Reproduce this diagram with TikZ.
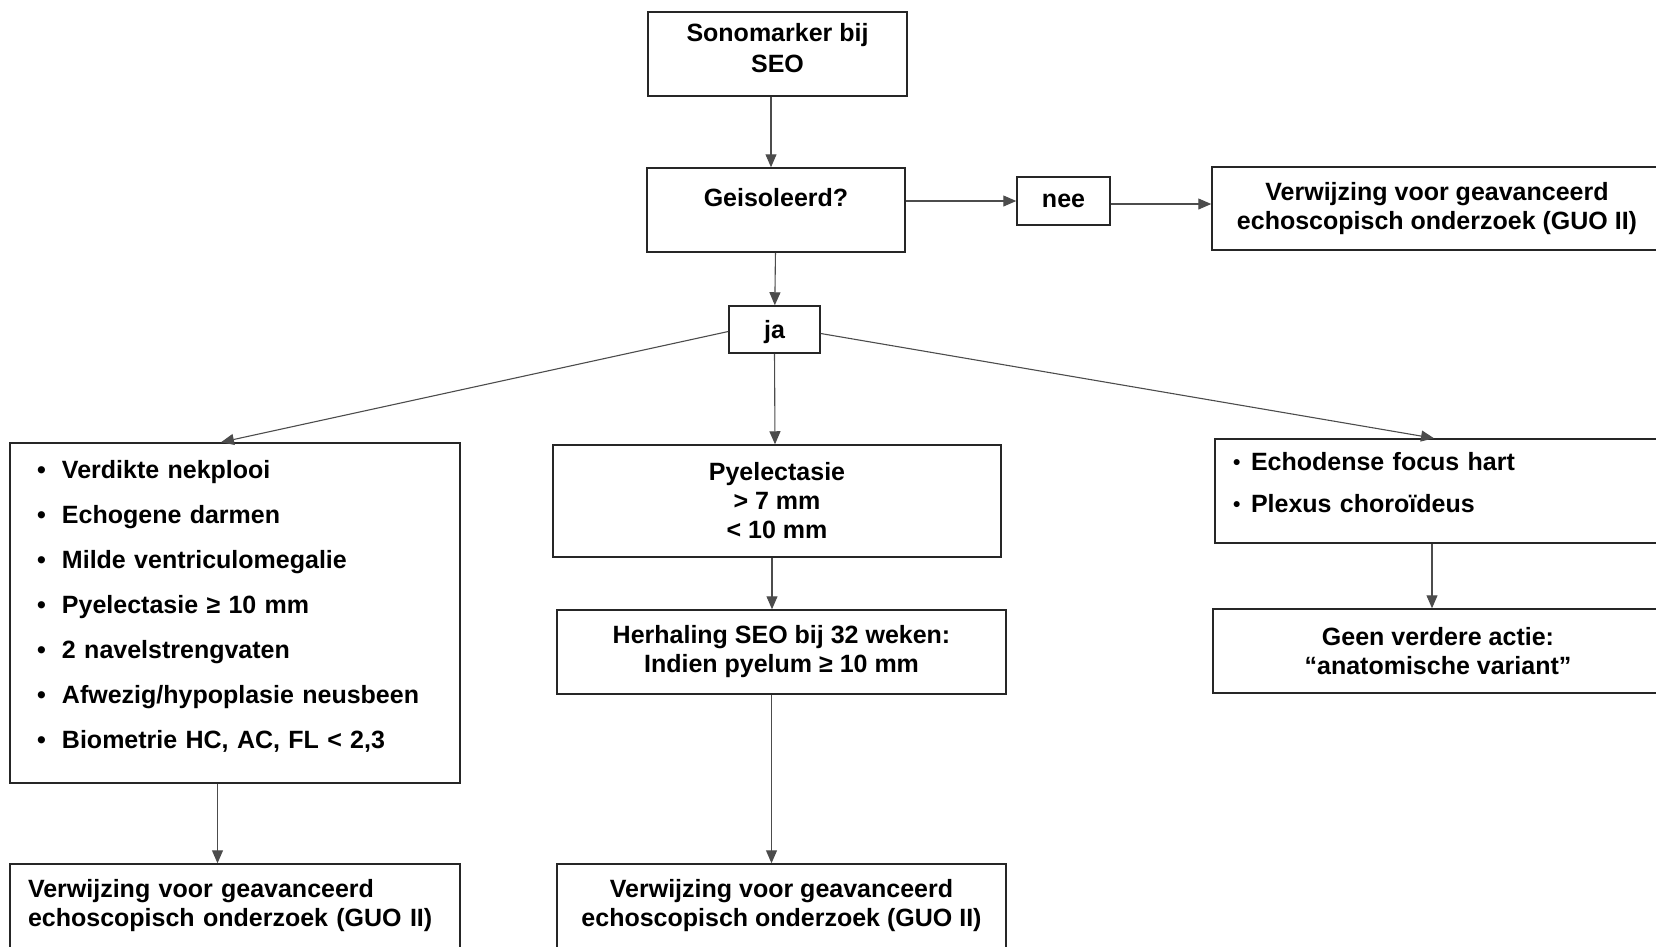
\documentclass[tikz,border=0pt]{standalone}
\usepackage{fontspec}
\setmainfont{Liberation Sans}
\usetikzlibrary{arrows.meta, positioning}

\tikzset{
    blok/.style={draw=black!85, line width=1.5pt, inner sep=0pt, minimum height=84pt, align=center, font=\fontsize{25}{29}\bfseries\selectfont},
    pijl/.style={-{Triangle[length=13pt, width=11pt]}, line width=1.1pt, draw=black!70},
}
\newcommand{\punt}[1]{\makebox[#1][l]{•}}
\newcommand{\kleinpunt}[1]{\makebox[#1][l]{\hspace{13pt}\fontsize{21}{21}\selectfont\raisebox{1.5pt}{•}}}

\begin{document}
\begin{tikzpicture}[x=1pt, y=-1pt]
    \clip (0,0) rectangle (1656,946);

    % start en vraag
    \node[blok, minimum width=259pt, text depth=12pt] (sono) at (777.5,54) {Sonomarker bij\\[2pt]SEO};
    \node[blok, minimum width=258pt] (geis) at (776,210) {Geisoleerd?\\[-3pt]~};
    \node[blok, minimum width=93pt, minimum height=48pt] (nee) at (1063.5,201) {nee};
    \node[blok, minimum width=450pt, minimum height=83pt] (verw1) at (1437,208.5) {Verwijzing voor geavanceerd\\echoscopisch onderzoek (GUO II)};
    \node[blok, minimum width=91pt, minimum height=47pt, text depth=0pt] (ja) at (774.5,329.5) {ja};

    % linker tak
    \node[blok, minimum width=450pt, minimum height=340pt, text width=396pt, inner xsep=27pt, align=left] (lijst) at (235,613) {%
        \punt{25pt}Verdikte nekplooi\\[16pt]
        \punt{25pt}Echogene darmen\\[16pt]
        \punt{25pt}Milde ventriculomegalie\\[16pt]
        \punt{25pt}Pyelectasie ≥ 10 mm\\[16pt]
        \punt{25pt}2 navelstrengvaten\\[16pt]
        \punt{25pt}Afwezig/hypoplasie neusbeen\\[16pt]
        \punt{25pt}Biometrie HC, AC, FL < 2,3\\[-12pt]\mbox{}};
    \node[blok, minimum width=450pt, text width=414pt, inner xsep=18pt, align=left] (verw2) at (235,906) {Verwijzing voor geavanceerd\\echoscopisch onderzoek (GUO II)};

    % middelste tak
    \node[blok, minimum width=448pt, minimum height=112pt] (pyel) at (777,501) {Pyelectasie\\> 7 mm\\< 10 mm};
    \node[blok, minimum width=449pt] (herh) at (781.5,652) {Herhaling SEO bij 32 weken:\\Indien pyelum ≥ 10 mm};
    \node[blok, minimum width=449pt] (verw3) at (781.5,906) {Verwijzing voor geavanceerd\\echoscopisch onderzoek (GUO II)};

    % rechter tak
    \node[blok, minimum width=450pt, minimum height=104pt, text width=440pt, inner xsep=5pt, align=left] (echo) at (1440,491) {%
        \kleinpunt{31pt}Echodense focus hart\\[13pt]
        \kleinpunt{31pt}Plexus choroïdeus\\[-12pt]\mbox{}};
    \node[blok, minimum width=450pt] (geen) at (1438,651) {Geen verdere actie:\\“anatomische variant”};

    % pijlen
    \draw[pijl] ([xshift=-6.5pt]sono.south) -- ([xshift=-5pt]geis.north);
    \draw[pijl] (geis.east |- nee.west) -- (nee.west);
    \draw[pijl] ([yshift=-3pt]nee.east) -- ([yshift=-3pt]nee.east -| verw1.west);
    \draw[pijl] (geis) -- (ja);
    \draw[pijl] ([yshift=-2pt]ja.west) -- ([xshift=-14pt]lijst.north);
    \draw[pijl] ([yshift=-4pt]ja.east) -- ([xshift=-6pt]echo.north);
    \draw[pijl] (ja.south) -- ([xshift=-2pt]pyel.north);
    \draw[pijl] ([xshift=-5pt]pyel.south) -- ([xshift=-9.5pt]herh.north);
    \draw[pijl] ([xshift=-10pt]herh.south) -- ([xshift=-10pt]verw3.north);
    \draw[pijl] ([xshift=-17.5pt]lijst.south) -- ([xshift=-17.5pt]verw2.north);
    \draw[pijl] ([xshift=-8pt]echo.south) -- ([xshift=-6pt]geen.north);
\end{tikzpicture}
\end{document}
